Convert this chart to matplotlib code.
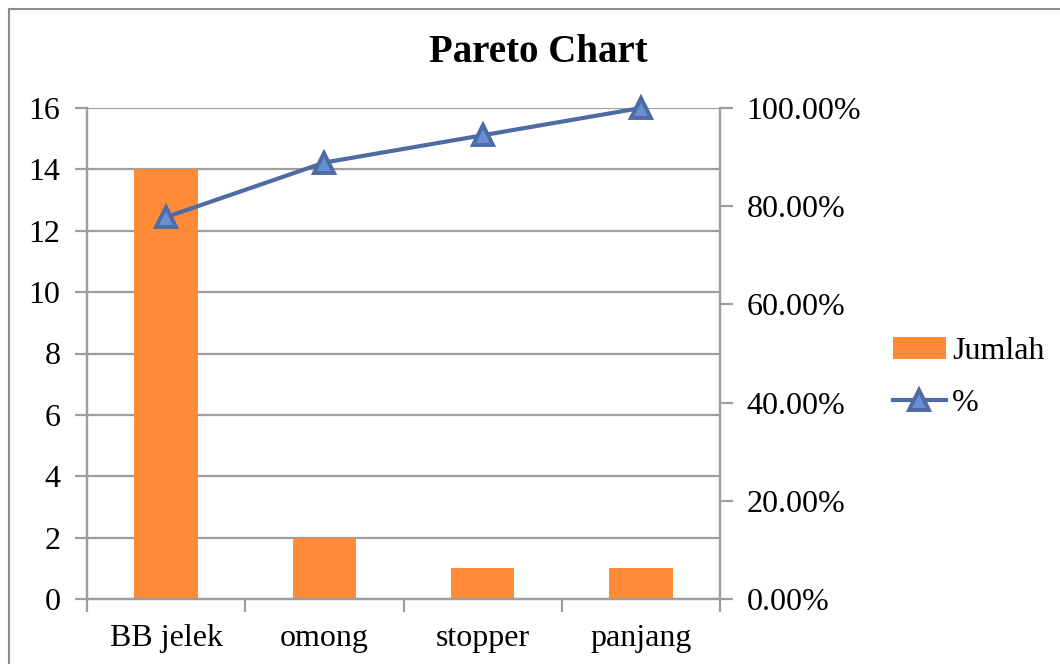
import matplotlib.pyplot as plt
from matplotlib.lines import Line2D
from matplotlib.ticker import FuncFormatter

categories = ["BB jelek", "omong", "stopper", "panjang"]
jumlah = [14, 2, 1, 1]
persen = [77.78, 88.89, 94.44, 100.0]

plt.rcParams["font.family"] = ["Liberation Serif", "DejaVu Serif"]
grey = "#9E9E9E"
bar_color = "#FF8B38"
line_color = "#4F6BA3"

fig = plt.figure(figsize=(10.6, 6.64), dpi=100)
ax = fig.add_axes([87 / 1060, 65 / 664, 633 / 1060, 491 / 664])
ax2 = ax.twinx()

x = list(range(len(categories)))
ax.bar(x, jumlah, width=0.4, color=bar_color, label="Jumlah", zorder=2)
ax2.plot(x, persen, color=line_color, linewidth=3, marker="^", markersize=15,
         markerfacecolor="#6A8ED4", markeredgecolor=line_color, markeredgewidth=2.8,
         label="%", zorder=3, clip_on=False)

ax.set_xlim(-0.5, 3.5)
ax.set_ylim(0, 16)
ax.set_yticks(range(0, 17, 2))
ax.yaxis.grid(True, color=grey, linewidth=1.6, zorder=0)
ax.set_axisbelow(True)
ax2.set_ylim(0, 100)
ax2.set_yticks(range(0, 101, 20))
ax2.yaxis.set_major_formatter(FuncFormatter(lambda v, p: "%.2f%%" % v))

ax.set_xticks(x)
ax.set_xticklabels(categories)
ax.set_xticks([-0.5, 0.5, 1.5, 2.5, 3.5], minor=True)
ax.tick_params(axis="x", which="major", length=0, pad=18, labelsize=23)
ax.tick_params(axis="x", which="minor", length=9, width=1.6, color=grey)
ax.tick_params(axis="y", length=9, width=1.6, color=grey, labelsize=23, pad=10)
ax2.tick_params(axis="y", length=9, width=1.6, color=grey, labelsize=23, pad=10)

for a in (ax, ax2):
    for s in a.spines.values():
        s.set_color(grey)
        s.set_linewidth(1.6)
    a.spines["top"].set_visible(False)

fig.text(538 / 1060, 1 - 53 / 664, "Pareto Chart", ha="center", va="center",
         fontsize=28, fontweight="bold")

h1, l1 = ax.get_legend_handles_labels()
h2, l2 = ax2.get_legend_handles_labels()
fig.legend(h1 + h2, l1 + l2, loc="upper left", bbox_to_anchor=(877 / 1060, 1 - 321 / 664),
           frameon=False, fontsize=23, handlelength=1.65, handletextpad=0.2,
           labelspacing=0.7, borderpad=0)

# outer chart frame (only top and left edges visible)
fig.add_artist(Line2D([9 / 1060, 9 / 1060], [0, 1 - 9 / 664], color="#8C8C8C", linewidth=1.5))
fig.add_artist(Line2D([9 / 1060, 1], [1 - 9 / 664, 1 - 9 / 664], color="#8C8C8C", linewidth=1.5))

plt.savefig("out.png", dpi=100)
